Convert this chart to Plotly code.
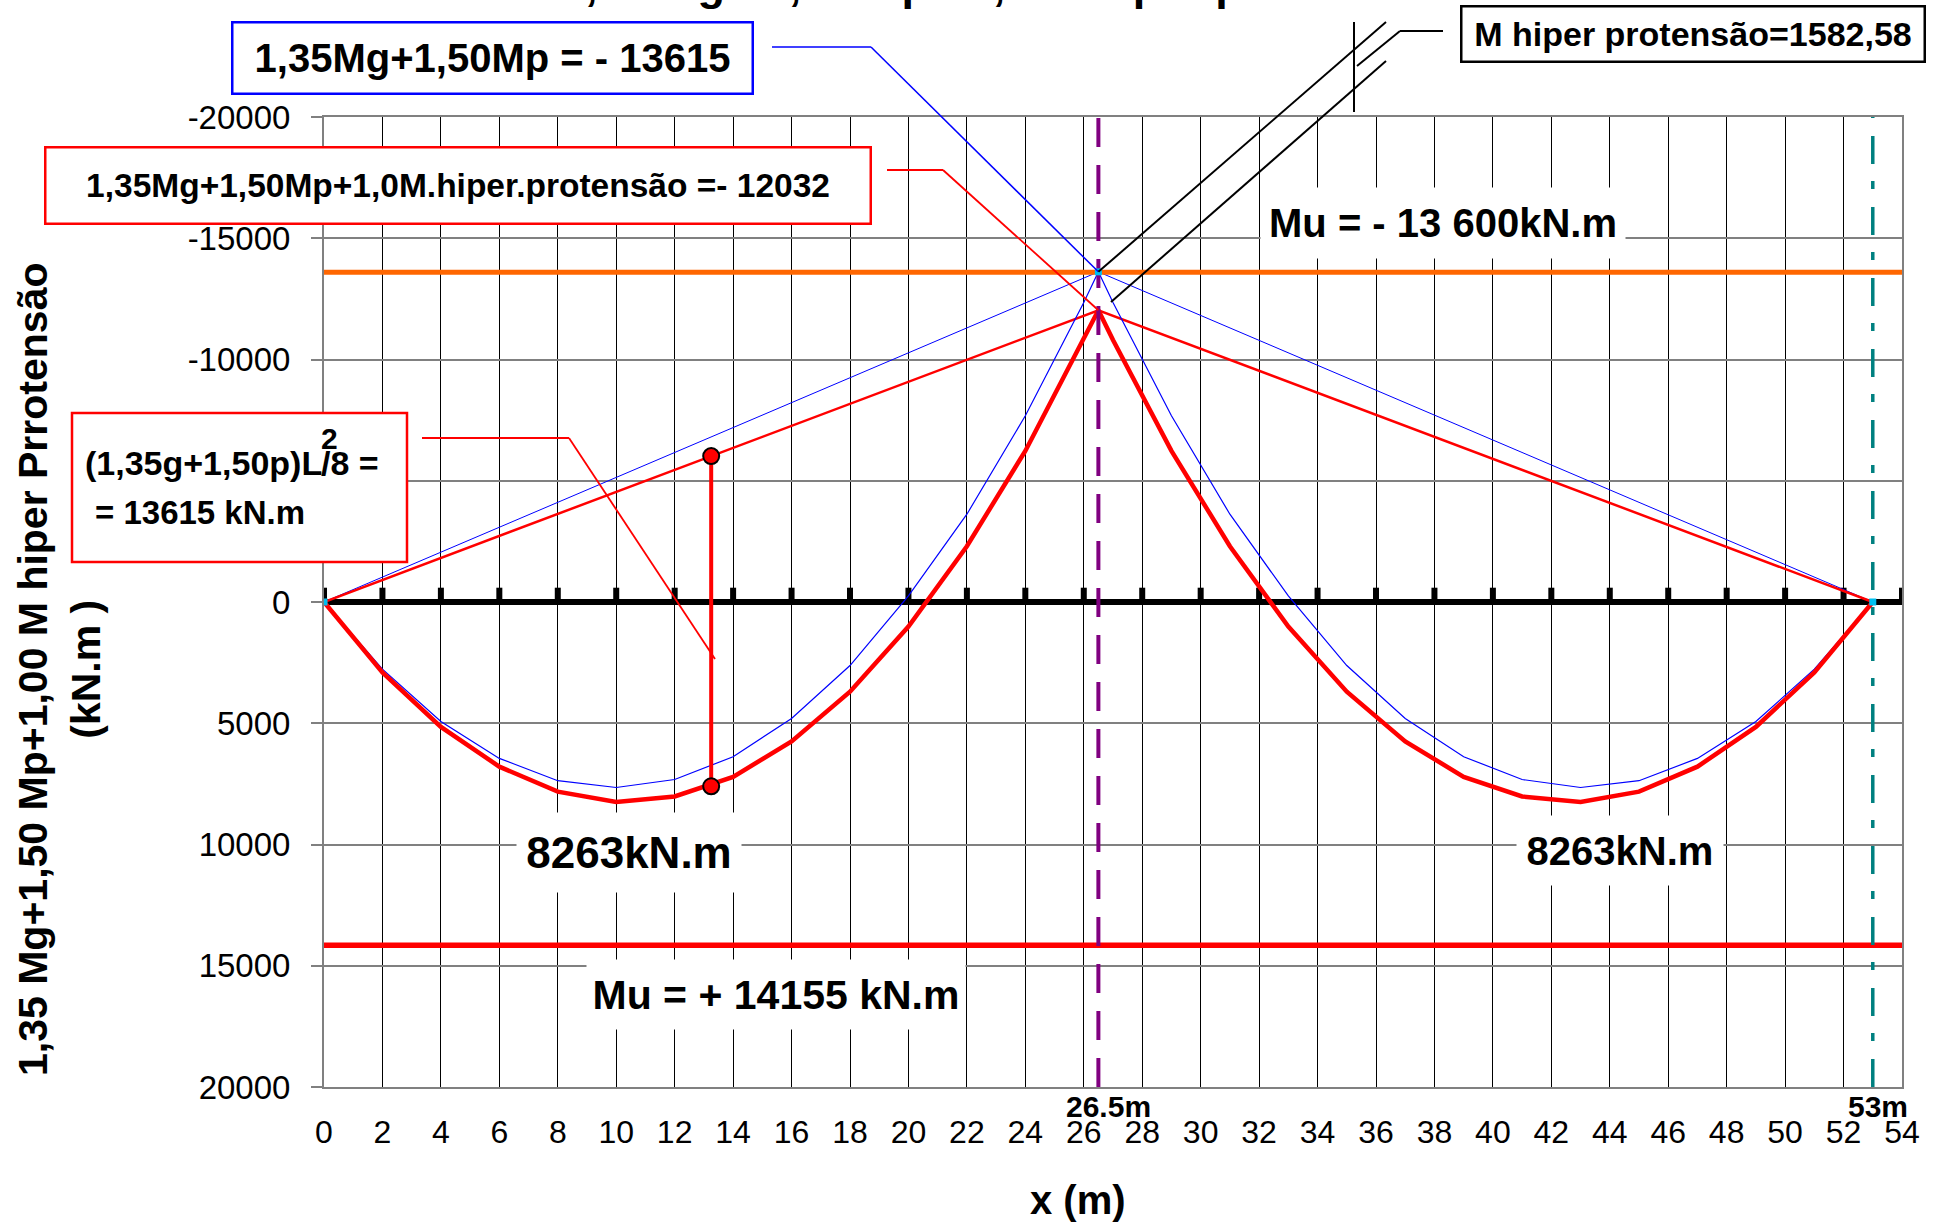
import plotly.graph_objects as go

# ---------------- data ----------------
x_pts = [0, 2, 4, 6, 8, 10, 12, 14, 16, 18, 20, 22, 24, 26, 26.5,
         27, 29, 31, 33, 35, 37, 39, 41, 43, 45, 47, 49, 51, 53]
m_gp = [0, 2770, 4930, 6450, 7370, 7650, 7320, 6380, 4800, 2620, -250, -3620, -7680, -12350, -13615,
        -12350, -7680, -3620, -250, 2620, 4800, 6380, 7320, 7650, 7370, 6450, 4930, 2770, 0]
m_total = [0, 2900, 5150, 6790, 7820, 8250, 8020, 7210, 5750, 3700, 1010, -2300, -6230, -10800, -12032,
           -10800, -6230, -2300, 1010, 3700, 5750, 7210, 8020, 8250, 7820, 6790, 5150, 2900, 0]
closing_x = [0, 26.5, 53]
closing_gp = [0, -13615, 0]
closing_total = [0, -12032, 0]
mu_neg = -13600
mu_pos = 14155
support_lines_x = [26.5, 53]
dim_x = [13.25, 13.25]
dim_y = [-6016, 7599]

x_range = [0, 54]
y_range = [20000, -20000]   # reversed axis: bottom 20000, top -20000
x_ticks = [0, 2, 4, 6, 8, 10, 12, 14, 16, 18, 20, 22, 24, 26, 28, 30, 32, 34, 36, 38, 40,
           42, 44, 46, 48, 50, 52, 54]
x_tick_text = [str(v) for v in x_ticks]
y_ticks = [-20000, -15000, -10000, -5000, 0, 5000, 10000, 15000, 20000]
y_tick_text = ["-20000", "-15000", "-10000", "-5000", "0", "5000", "10000", "15000", "20000"]

# ---------------- geometry / styles ----------------
W, H = 1937, 1225
PL, PT, PW, PH = 324, 117, 1578, 970
FONT = "Liberation Sans, Arial, Helvetica, sans-serif"
BUMP_OFFSET = -330  # small upward offset of beam tick bumps (data units)


def px(x):
    return (x - PL) / PW


def py(y):
    return (PT + PH - y) / PH


def dpx(xd):
    return (xd - x_range[0]) / (x_range[1] - x_range[0])


def dpy(yd):
    return (y_range[0] - yd) / (y_range[0] - y_range[1])


fig = go.Figure()

# beam (x axis at M=0) with tick bumps
fig.add_trace(go.Scatter(x=x_range, y=[0, 0], mode="lines",
                         line=dict(color="black", width=6), hoverinfo="skip", showlegend=False))
fig.add_trace(go.Scatter(x=x_ticks, y=[BUMP_OFFSET] * len(x_ticks), mode="markers",
                         marker=dict(symbol="line-ns", size=9, line=dict(color="black", width=6)),
                         hoverinfo="skip", showlegend=False))

# closing lines
fig.add_trace(go.Scatter(x=closing_x, y=closing_gp, mode="lines",
                         line=dict(color="#0000FF", width=1), showlegend=False))
fig.add_trace(go.Scatter(x=closing_x, y=closing_total, mode="lines",
                         line=dict(color="#FF0000", width=2.5), showlegend=False))

# moment curves
fig.add_trace(go.Scatter(x=x_pts, y=m_gp, mode="lines",
                         line=dict(color="#0000FF", width=1.2), showlegend=False))
fig.add_trace(go.Scatter(x=x_pts, y=m_total, mode="lines",
                         line=dict(color="#FF0000", width=4.5), showlegend=False))

# resisting moments
fig.add_trace(go.Scatter(x=x_range, y=[mu_neg, mu_neg], mode="lines",
                         line=dict(color="#FF6600", width=5), showlegend=False))
fig.add_trace(go.Scatter(x=x_range, y=[mu_pos, mu_pos], mode="lines",
                         line=dict(color="#FF0000", width=5.5), showlegend=False))

# dimension line (1,35g+1,50p)L^2/8
fig.add_trace(go.Scatter(x=dim_x, y=dim_y, mode="lines+markers",
                         line=dict(color="#FF0000", width=4),
                         marker=dict(symbol="circle", size=16, color="#FF0000",
                                     line=dict(color="black", width=2)),
                         showlegend=False))

# support verticals
fig.add_trace(go.Scatter(x=[support_lines_x[0]] * 2, y=y_range, mode="lines",
                         line=dict(color="#800080", width=4, dash="29px,18px"), showlegend=False))
fig.add_trace(go.Scatter(x=[support_lines_x[1]] * 2, y=y_range, mode="lines",
                         line=dict(color="#008080", width=3.5, dash="28px,18px,8px,17px"), showlegend=False))

# support markers
fig.add_trace(go.Scatter(x=closing_x, y=closing_gp, mode="markers",
                         marker=dict(symbol="square", size=7, color="#00C0F0"), showlegend=False))

# ---------------- leader lines ----------------
shapes = []


def seg(p0, p1, color, width):
    shapes.append(dict(type="line", xref="paper", yref="paper",
                       x0=p0[0], y0=p0[1], x1=p1[0], y1=p1[1],
                       line=dict(color=color, width=width), layer="above"))


P_gp = (dpx(closing_x[1]), dpy(closing_gp[1]))
P_tot = (dpx(closing_x[1]), dpy(closing_total[1]))

seg((px(772), py(47)), (px(871), py(47)), "#0000FF", 1.5)
seg((px(871), py(47)), P_gp, "#0000FF", 1.5)
seg((px(887), py(170)), (px(943), py(170)), "#FF0000", 1.8)
seg((px(943), py(170)), P_tot, "#FF0000", 1.8)
seg((px(422), py(438)), (px(569), py(438)), "#FF0000", 1.8)
seg((px(569), py(438)), (px(715), py(659)), "#FF0000", 1.8)
seg(P_gp, (px(1386), py(22)), "black", 2)
seg((px(1111), py(302)), (px(1386), py(61)), "black", 2)
seg((px(1357), py(66)), (px(1400), py(31)), "black", 2)
seg((px(1400), py(31)), (px(1443), py(31)), "black", 2)
seg((px(1354), py(22)), (px(1354), py(112)), "black", 2)

# box for the L^2/8 note
shapes.append(dict(type="rect", xref="paper", yref="paper",
                   x0=px(72), x1=px(407), y0=py(413), y1=py(562),
                   line=dict(color="#FF0000", width=2.5), fillcolor="white", layer="above"))


def text(t, xc, yc, size, **kw):
    d = dict(text=t, x=px(xc), y=py(yc), xref="paper", yref="paper", showarrow=False,
             font=dict(family=FONT, size=size, color="black"),
             xanchor="center", yanchor="middle")
    d.update(kw)
    fig.add_annotation(**d)


# boxed labels
text("<b>1,35Mg+1,50Mp = - 13615</b>", 492, 58.5, 40,
     bordercolor="#0000FF", borderwidth=2.5, bgcolor="white", width=516, height=67, borderpad=1)
text("<b>1,35Mg+1,50Mp+1,0M.hiper.protensão =- 12032</b>", 457.5, 185.5, 33.5,
     bordercolor="#FF0000", borderwidth=2.5, bgcolor="white", width=821, height=72, borderpad=1)
text("<b>M hiper protensão=1582,58</b>", 1692.5, 33.5, 34,
     bordercolor="black", borderwidth=2.5, bgcolor="white", width=459, height=51, borderpad=1)
text("<b>(1,35g+1,50p)L</b>", 83, 463, 34, xanchor="left")
text("<b>2</b>", 329, 438, 30)
text("<b>/8 =</b>", 319, 463, 34, xanchor="left")
text("<b>= 13615 kN.m</b>", 93, 512, 33, xanchor="left")

# white-background labels
text("<b>Mu = - 13 600kN.m</b>", 1443, 223, 40, bgcolor="white", width=364, height=70, borderpad=0)
text("<b>8263kN.m</b>", 629, 852, 44, bgcolor="white", width=224, height=79, borderpad=0)
text("<b>8263kN.m</b>", 1620, 850, 40, bgcolor="white", width=206, height=69, borderpad=0)
text("<b>Mu = + 14155 kN.m</b>", 776, 994, 41, bgcolor="white", width=378, height=69, borderpad=0)

# support position labels
text("<b>26.5m</b>", 1108, 1106, 30)
text("<b>53m</b>", 1878, 1106, 30)

# axis titles
text("<b>x (m)</b>", 1078, 1200, 40)
text("<b>1,35 Mg+1,50 Mp+1,00 M hiper Prrotensão<br>(kN.m )</b>", 59, 670, 41, textangle=-90)

# chart title (mostly cut off at the top edge of the picture)
text("<b>1,35 Mg +1,50 Mp +1,0 M hiper protensão</b>", 558, -16, 45, xanchor="left")

fig.update_layout(
    width=W, height=H,
    margin=dict(l=PL, r=W - PL - PW, t=PT, b=H - PT - PH, pad=0),
    paper_bgcolor="white", plot_bgcolor="white",
    shapes=shapes,
    showlegend=False,
    xaxis=dict(range=x_range, tickvals=x_ticks, ticktext=x_tick_text,
               showgrid=True, gridcolor="black", gridwidth=1,
               ticks="", ticklabelstandoff=16,
               tickfont=dict(family=FONT, size=32, color="black"),
               zeroline=False, showline=True, linecolor="#808080", linewidth=2, mirror=True),
    yaxis=dict(range=y_range, tickvals=y_ticks, ticktext=y_tick_text,
               showgrid=True, gridcolor="#808080", gridwidth=2,
               ticks="outside", ticklen=11, tickwidth=2, tickcolor="#808080",
               ticklabelstandoff=14,
               tickfont=dict(family=FONT, size=33, color="black"),
               zeroline=False, showline=True, linecolor="#808080", linewidth=2, mirror=True),
)

fig.write_html("out.html", config={"displayModeBar": False},
               post_script="document.body.style.margin='0';document.body.style.overflow='hidden';")
